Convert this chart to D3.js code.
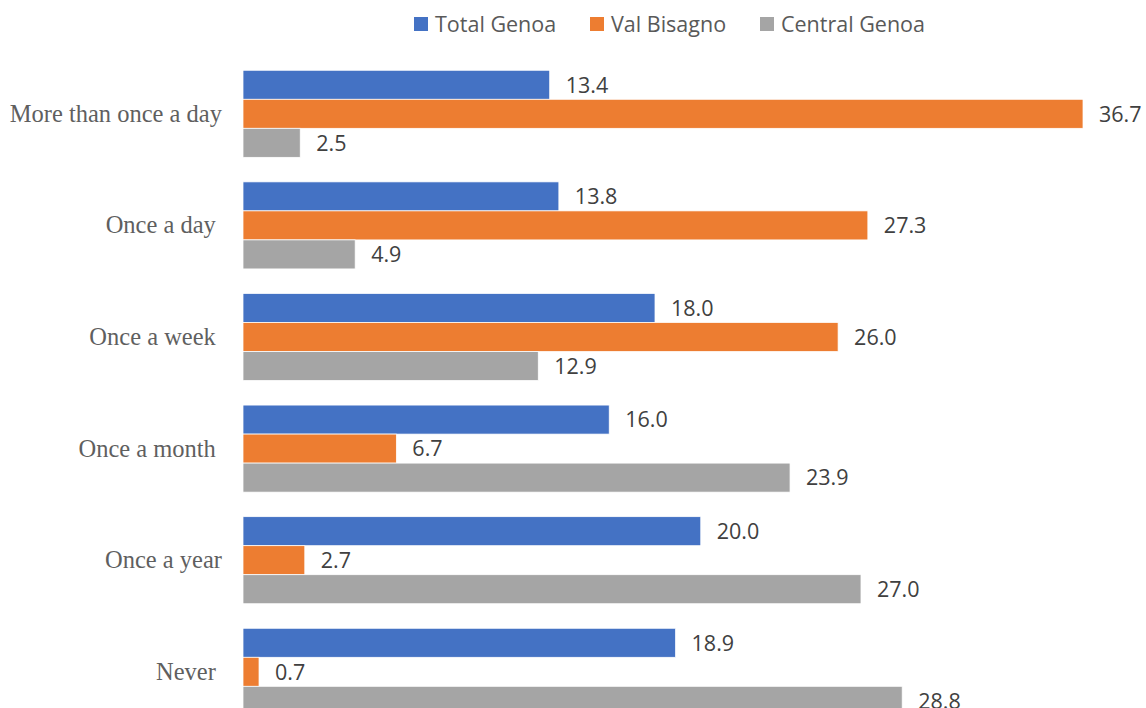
<!DOCTYPE html>
<html>
<head>
<meta charset="utf-8">
<script src="https://cdn.jsdelivr.net/npm/d3@7/dist/d3.min.js"></script>
<style>
  html, body { margin: 0; padding: 0; background: #fff; }
  svg { display: block; }
  .cat { font-family: "Liberation Serif", "DejaVu Serif", serif; font-size: 24.5px; fill: #5f5f5f; white-space: pre; }
  .val { font-family: "Open Sans", "Noto Sans", sans-serif; font-size: 21.5px; fill: #404040; }
  .leg { font-family: "Open Sans", "Noto Sans", sans-serif; font-size: 21.5px; fill: #595959; }
</style>
</head>
<body>
<svg id="chart" width="1146" height="708"></svg>
<script>
// Frequency categories, top to bottom
const categories = [
  "More than once a day",
  "Once a day ",
  "Once a week ",
  "Once a month ",
  "Once a year",
  "Never "
];
const seriesNames = ["Total Genoa", "Val Bisagno", "Central Genoa"];
const seriesColors = ["#4472C4", "#ED7D31", "#A5A5A5"];
const totalGenoa   = [13.4, 13.8, 18.0, 16.0, 20.0, 18.9];
const valBisagno   = [36.7, 27.3, 26.0, 6.7, 2.7, 0.7];
const centralGenoa = [2.5, 4.9, 12.9, 23.9, 27.0, 28.8];
const seriesValues = [totalGenoa, valBisagno, centralGenoa];

const svg = d3.select("#chart");
const x0 = 243;

const x = d3.scaleLinear().domain([0, 36.7]).range([x0, 1083]);

const y = d3.scaleBand()
  .domain(categories)
  .range([58, 58 + 6 * 111.6])
  .paddingInner(0.22)
  .paddingOuter(0.11);

const ySub = d3.scaleBand()
  .domain(seriesNames)
  .range([0, y.bandwidth()]);

// Legend
const legendX = [414, 590, 760];
const legend = svg.append("g");
seriesNames.forEach((name, i) => {
  legend.append("rect")
    .attr("x", legendX[i]).attr("y", 17)
    .attr("width", 14).attr("height", 14)
    .attr("fill", seriesColors[i]);
  legend.append("text")
    .attr("class", "leg")
    .attr("x", legendX[i] + 21).attr("y", 32)
    .text(name);
});

// Category labels
svg.append("g").selectAll("text")
  .data(categories)
  .join("text")
  .attr("class", "cat")
  .attr("x", 222)
  .attr("y", d => y(d) + y.bandwidth() / 2)
  .attr("dy", "0.33em")
  .attr("text-anchor", "end")
  .text(d => d);

// Bars and value labels
const rows = [];
categories.forEach((c, ci) => {
  seriesNames.forEach((s, si) => {
    rows.push({ cat: c, series: s, si, value: seriesValues[si][ci] });
  });
});

const g = svg.append("g");
g.selectAll("rect")
  .data(rows)
  .join("rect")
  .attr("x", x(0))
  .attr("y", d => y(d.cat) + ySub(d.series))
  .attr("width", d => x(d.value) - x(0))
  .attr("height", ySub.bandwidth())
  .attr("fill", d => seriesColors[d.si])
  .attr("stroke", "#ffffff")
  .attr("stroke-width", 0.75);

g.selectAll("text")
  .data(rows)
  .join("text")
  .attr("class", "val")
  .attr("x", d => x(d.value) + 16)
  .attr("y", d => y(d.cat) + ySub(d.series) + ySub.bandwidth() / 2)
  .attr("dy", "0.36em")
  .text(d => d.value.toFixed(1));
</script>
</body>
</html>
